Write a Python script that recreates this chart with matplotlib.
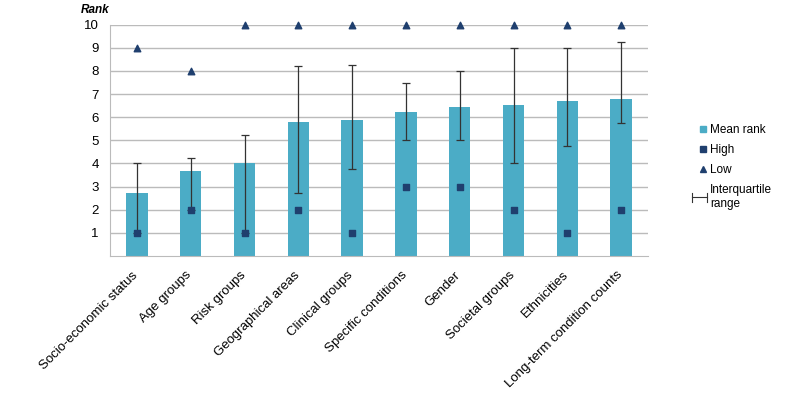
import matplotlib
matplotlib.use("Agg")
import matplotlib.pyplot as plt
import matplotlib.transforms as mtrans
import numpy as np
from matplotlib.lines import Line2D
from matplotlib.patches import Patch
from matplotlib.legend_handler import HandlerBase

plt.rcParams['font.family'] = ['Liberation Sans', 'DejaVu Sans']

categories = ["Socio-economic status", "Age groups", "Risk groups", "Geographical areas",
              "Clinical groups", "Specific conditions", "Gender", "Societal groups",
              "Ethnicities", "Long-term condition counts"]
mean_rank = [2.74, 3.66, 4.03, 5.77, 5.89, 6.22, 6.42, 6.54, 6.68, 6.8]
high = [1, 2, 1, 2, 1, 3, 3, 2, 1, 2]
low = [9, 8, 10, 10, 10, 10, 10, 10, 10, 10]
iqr_low = [1, 2, 1, 2.74, 3.74, 5.0, 5.0, 4.0, 4.75, 5.76]
iqr_high = [4.0, 4.24, 5.24, 8.23, 8.25, 7.49, 8.0, 9.0, 9.0, 9.23]

bar_color = "#4BACC6"
mark_color = "#1F3F6E"

fig = plt.figure(figsize=(8, 3.98), dpi=100)
ax = fig.add_axes([0.1375, 0.357, 0.6725, 0.581])

x = np.arange(len(categories))
ax.bar(x, mean_rank, width=0.4, color=bar_color, zorder=2)
mid = [(a + b) / 2 for a, b in zip(iqr_low, iqr_high)]
err = [[m - a for m, a in zip(mid, iqr_low)], [b - m for m, b in zip(mid, iqr_high)]]
ax.errorbar(x, mid, yerr=err, fmt='none', ecolor='#333333', elinewidth=0.9,
            capsize=3, capthick=0.9, zorder=3)
ax.scatter(x, high, marker='s', s=22, color=mark_color, zorder=4)
ax.scatter(x, low, marker='^', s=22, color=mark_color, zorder=4, clip_on=False)

ax.set_xlim(-0.5, len(categories) - 0.5)
ax.set_ylim(0, 10)
ax.set_yticks(range(1, 11))
ax.tick_params(axis='y', length=0, labelsize=9.5, pad=8)
ax.tick_params(axis='x', length=0, labelsize=9.5, pad=9.5)
ax.set_xticks(x)
ax.set_xticklabels(categories, rotation=45, ha='right', rotation_mode='anchor')
shift = mtrans.ScaledTranslation(-5 / 100, 0, fig.dpi_scale_trans)
for lab in ax.get_xticklabels():
    lab.set_transform(lab.get_transform() + shift)
ax.yaxis.grid(True, color='#BBBBBB', linewidth=1, zorder=0)
ax.set_axisbelow(True)
for s in ['top', 'right']:
    ax.spines[s].set_visible(False)
ax.spines['left'].set_color('#BBBBBB')
ax.spines['bottom'].set_color('#BBBBBB')

fig.text(0.119, 0.975, "Rank", fontsize=8.5, fontstyle='italic', fontweight='bold', ha='center', va='center')


class HandlerIQR(HandlerBase):
    def create_artists(self, legend, orig_handle, xdescent, ydescent, width, height, fontsize, trans):
        y = height / 2 - ydescent
        x0, x1 = -xdescent - 6, -xdescent + width + 1
        l1 = Line2D([x0, x1], [y, y], color='#333333', lw=0.8, transform=trans)
        l2 = Line2D([x0, x0], [y - 3, y + 3], color='#333333', lw=0.8, transform=trans)
        l3 = Line2D([x1, x1], [y - 3, y + 3], color='#333333', lw=0.8, transform=trans)
        return [l1, l2, l3]


class IQRHandle:
    pass


handles = [Patch(color=bar_color),
           Line2D([], [], marker='s', ls='none', color=mark_color, markersize=4.5),
           Line2D([], [], marker='^', ls='none', color=mark_color, markersize=4.5),
           IQRHandle()]
labels = ["Mean rank", "High", "Low", "Interquartile\nrange"]
leg = fig.legend(handles, labels, loc='upper left', bbox_to_anchor=(0.875, 0.688), frameon=False,
                 fontsize=8.5, handlelength=0.5, handleheight=0.5, handletextpad=0.35,
                 labelspacing=0.68, borderpad=0, borderaxespad=0,
                 handler_map={IQRHandle: HandlerIQR()})
leg.get_texts()[3].set_linespacing(1.2)

fig.savefig("out.png", dpi=100)
